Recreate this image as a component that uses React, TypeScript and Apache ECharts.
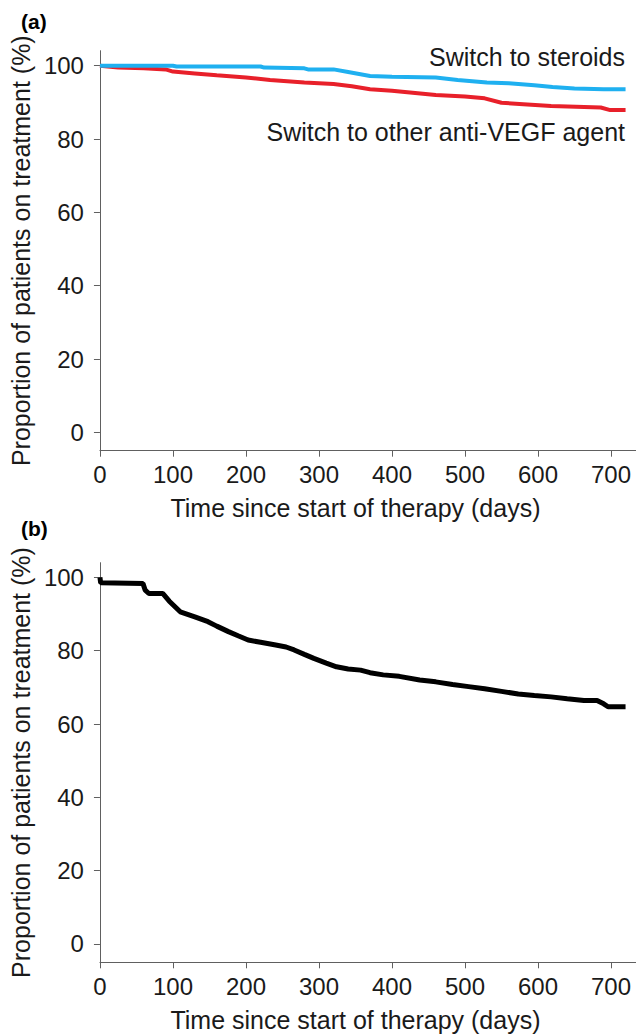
import React, { useEffect, useRef } from "react";
import * as echarts from "echarts";

// Panel (a): Kaplan–Meier style curves [day, % on treatment]
const steroidsCurve: [number, number][] = [
  [0, 100], [100, 100], [105, 99.8], [220, 99.8], [225, 99.5], [280, 99.3], [285, 99.0],
  [320, 99.0], [340, 98.3], [370, 97.2], [400, 97.0], [460, 96.8], [490, 96.1], [530, 95.4],
  [560, 95.2], [595, 94.7], [620, 94.2], [650, 93.8], [690, 93.6], [720, 93.6],
];
const antiVegfCurve: [number, number][] = [
  [0, 100], [25, 99.5], [60, 99.3], [90, 99.0], [100, 98.4], [130, 97.9], [160, 97.4],
  [200, 96.8], [233, 96.1], [280, 95.4], [320, 95.0], [345, 94.4], [370, 93.6], [400, 93.2],
  [460, 92.0], [500, 91.6], [527, 91.1], [550, 89.9], [580, 89.5], [618, 89.0], [686, 88.6],
  [699, 87.9], [720, 87.9],
];
// Panel (b)
const overallCurve: [number, number][] = [
  [0, 100], [1, 98.5], [59, 98.3], [62, 96.5], [67, 95.6], [86, 95.6], [95, 93.5], [110, 90.6],
  [130, 89.2], [148, 87.9], [160, 86.7], [176, 85.2], [190, 84.0], [203, 82.9], [220, 82.3],
  [239, 81.6], [255, 81.0], [266, 80.2], [280, 79.0], [293, 77.9], [310, 76.6], [324, 75.6],
  [340, 75.0], [357, 74.7], [370, 74.0], [388, 73.4], [410, 73.0], [438, 72.0], [460, 71.5],
  [483, 70.8], [505, 70.2], [527, 69.6], [550, 68.9], [573, 68.2], [595, 67.8], [618, 67.4],
  [640, 66.9], [663, 66.4], [681, 66.4], [690, 65.5], [696, 64.7], [720, 64.7],
];

const xTicks = [0, 100, 200, 300, 400, 500, 600, 700];
const yTicks = [0, 20, 40, 60, 80, 100];
const xTitle = "Time since start of therapy (days)";
const yTitle = "Proportion of patients on treatment (%)";
const seriesNames = ["Switch to steroids", "Switch to other anti-VEGF agent", "All patients"];
const panelLabels = ["(a)", "(b)"];

const FONT = "'Liberation Sans', Arial, sans-serif";
const AXIS_COLOR = "#606060";
const TEXT_COLOR = "#1a1a1a";

function makeX(gridIndex: number) {
  return {
    type: "value",
    gridIndex,
    min: 0,
    max: 734.3,
    name: xTitle,
    nameLocation: "middle",
    nameGap: 45,
    nameTextStyle: { fontFamily: FONT, fontSize: 25, color: TEXT_COLOR, padding: [0, 25, 0, 0] },
    axisLine: { show: true, onZero: false, lineStyle: { color: AXIS_COLOR, width: 1 } },
    axisTick: { show: true, length: 6, customValues: xTicks, lineStyle: { color: AXIS_COLOR } },
    axisLabel: {
      customValues: xTicks,
      margin: 12,
      fontFamily: FONT,
      fontSize: 24,
      color: TEXT_COLOR,
    },
    splitLine: { show: false },
  };
}

function makeY(gridIndex: number, max: number) {
  return {
    type: "value",
    gridIndex,
    min: -5,
    max,
    name: yTitle,
    nameLocation: "middle",
    nameRotate: 90,
    nameGap: 64,
    nameTextStyle: { fontFamily: FONT, fontSize: 25, color: TEXT_COLOR },
    axisLine: { show: true, onZero: false, lineStyle: { color: AXIS_COLOR, width: 1 } },
    axisTick: { show: true, length: 6, customValues: yTicks, lineStyle: { color: AXIS_COLOR } },
    axisLabel: {
      customValues: yTicks,
      margin: 16,
      fontFamily: FONT,
      fontSize: 24,
      color: TEXT_COLOR,
    },
    splitLine: { show: false },
  };
}

export default function App() {
  const ref = useRef<HTMLDivElement>(null);
  useEffect(() => {
    if (!ref.current) return;
    const chart = echarts.init(ref.current, undefined, { renderer: "svg" });
    chart.setOption({
      animation: false,
      backgroundColor: "#ffffff",
      grid: [
        { left: 93.3, top: 50.7, width: 542.7, height: 400 },
        { left: 93.3, top: 562.7, width: 542.7, height: 399.6 },
      ],
      xAxis: [makeX(0), makeX(1)],
      yAxis: [makeY(0, 104.1), makeY(1, 104)],
      series: [
        {
          name: seriesNames[0],
          type: "line",
          xAxisIndex: 0,
          yAxisIndex: 0,
          data: steroidsCurve,
          showSymbol: false,
          lineStyle: { color: "#1fb0f0", width: 4 },
          itemStyle: { color: "#1fb0f0" },
          z: 3,
        },
        {
          name: seriesNames[1],
          type: "line",
          xAxisIndex: 0,
          yAxisIndex: 0,
          data: antiVegfCurve,
          showSymbol: false,
          lineStyle: { color: "#e8202a", width: 4 },
          itemStyle: { color: "#e8202a" },
          z: 2,
        },
        {
          name: seriesNames[2],
          type: "line",
          xAxisIndex: 1,
          yAxisIndex: 1,
          data: overallCurve,
          showSymbol: false,
          lineStyle: { color: "#000000", width: 5 },
          itemStyle: { color: "#000000" },
        },
      ],
      graphic: [
        {
          type: "text",
          left: 21,
          top: 11,
          style: { text: panelLabels[0], font: `bold 21px ${FONT}`, fill: "#000" },
        },
        {
          type: "text",
          left: 21,
          top: 518,
          style: { text: panelLabels[1], font: `bold 21px ${FONT}`, fill: "#000" },
        },
        {
          type: "text",
          right: 11,
          top: 44,
          style: { text: seriesNames[0], font: `25px ${FONT}`, fill: TEXT_COLOR },
        },
        {
          type: "text",
          right: 11,
          top: 119,
          style: { text: seriesNames[1], font: `25px ${FONT}`, fill: TEXT_COLOR },
        },
      ],
    });
    return () => chart.dispose();
  }, []);
  return (
    <div
      ref={ref}
      style={{ position: "absolute", left: 0, top: 0, width: 636, height: 1034, background: "#fff" }}
    />
  );
}
